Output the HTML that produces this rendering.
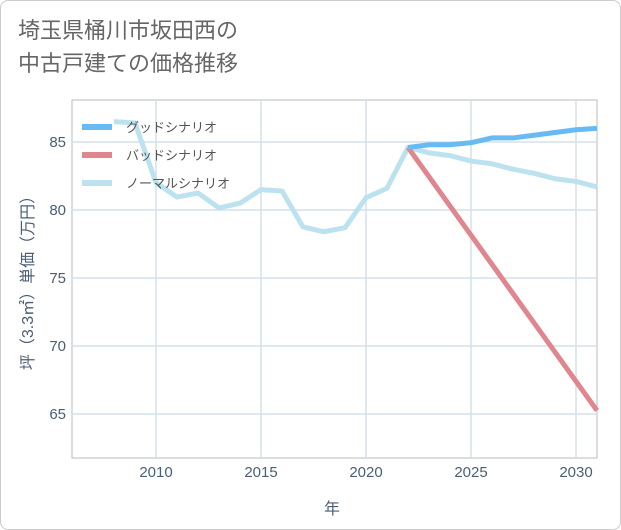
<!DOCTYPE html>
<html><head><meta charset="utf-8"><style>
body{margin:0;background:#fff;font-family:"Liberation Sans","Noto Sans CJK JP",sans-serif;}
#card{position:absolute;left:0;top:0;width:619px;height:528px;border:1px solid #ccc;border-radius:8px;background:#fff;}
#title{position:absolute;left:18px;top:14px;font-size:22px;line-height:33px;color:#666;}
svg{position:absolute;left:0;top:0}
</style></head><body>
<div id="card"></div>
<div id="title">埼玉県桶川市坂田西の<br>中古戸建ての価格推移</div>
<svg id="chart" width="621" height="530"></svg>
<script>
const years=[2008,2009,2010,2011,2012,2013,2014,2015,2016,2017,2018,2019,2020,2021,2022,2023,2024,2025,2026,2027,2028,2029,2030,2031];
const normal=[86.5,86.4,82.0,80.95,81.25,80.15,80.5,81.5,81.4,78.75,78.4,78.7,80.9,81.6,84.6,84.2,84.0,83.6,83.4,83.0,82.7,82.3,82.1,81.7];
const futureYears=[2022,2023,2024,2025,2026,2027,2028,2029,2030,2031];
const good=[84.6,84.8,84.8,84.95,85.3,85.3,85.5,85.7,85.9,86.0];
const bad=[84.6,82.45,80.3,78.15,76.0,73.85,71.7,69.55,67.4,65.25];
const xTicks=[2010,2015,2020,2025,2030];
const yTicks=[65,70,75,80,85];
const X0=72,X1=597,Y0=100,Y1=458,xMin=2006,xMax=2031,yMin=61.76,yMax=88.09;
const xs=v=>X0+(v-xMin)/(xMax-xMin)*(X1-X0);
const ys=v=>Y1-(v-yMin)/(yMax-yMin)*(Y1-Y0);
const svg=document.getElementById('chart');const NS='http://www.w3.org/2000/svg';
function mk(t,a){const e=document.createElementNS(NS,t);for(const k in a)e.setAttribute(k,a[k]);svg.appendChild(e);return e;}
const frame=mk('rect',{x:X0,y:Y0,width:X1-X0,height:Y1-Y0,fill:'none',stroke:'#bbb','stroke-width':1});


xTicks.forEach(t=>{const l=mk('line',{x1:xs(t),x2:xs(t),y1:Y0,y2:Y1,stroke:'#d5e0ea','stroke-width':1.5});


const tx=mk('text',{x:xs(t),y:477,'text-anchor':'middle','font-size':15,fill:'#4a5f75'});tx.textContent=t;

});
yTicks.forEach(t=>{const l=mk('line',{x1:X0,x2:X1,y1:ys(t),y2:ys(t),stroke:'#d5e0ea','stroke-width':1.5});


const tx=mk('text',{x:66,y:ys(t)+5,'text-anchor':'end','font-size':15,fill:'#4a5f75'});tx.textContent=t;

});
function line(xv,yv,c,n){const p=mk('polyline',{points:xv.map((x,i)=>xs(x)+','+ys(yv[i])).join(' '),fill:'none',stroke:c,'stroke-width':5,'stroke-linejoin':'round'});

}
line(years,normal,'#bde2ef','normal-line');
line(futureYears,bad,'#e0868f','bad-line');
line(futureYears,good,'#67bbf2','good-line');
[['グッドシナリオ','#67bbf2'],['バッドシナリオ','#e0868f'],['ノーマルシナリオ','#bde2ef']].forEach((d,i)=>{const y=127+i*28;
const l=mk('line',{x1:82,x2:112,y1:y,y2:y,stroke:d[1],'stroke-width':6});


const t=mk('text',{x:126,y:y+5,'font-size':13,fill:'#555'});t.textContent=d[0];

});
const xt=mk('text',{x:332,y:514,'text-anchor':'middle','font-size':16,fill:'#4a5f75'});xt.textContent='年';


const yt=mk('text',{x:0,y:0,'text-anchor':'middle','font-size':16,fill:'#4a5f75',transform:'translate(33,279) rotate(-90)'});yt.textContent='坪（3.3㎡）単価（万円）';


</script>
</body></html>
